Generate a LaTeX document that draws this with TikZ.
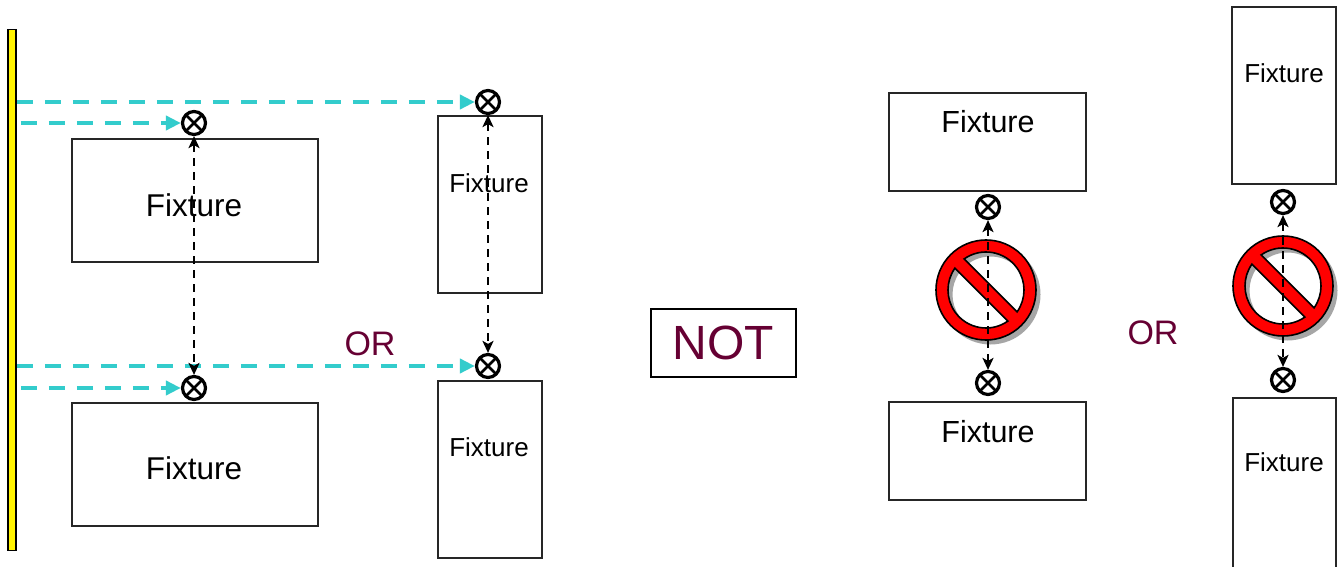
\documentclass[tikz,border=0pt]{standalone}
\usepackage{fontspec}
\setmainfont{Liberation Sans}
\usetikzlibrary{arrows.meta}
\definecolor{cyanline}{RGB}{51,204,204}
\definecolor{maroontxt}{RGB}{102,0,51}
\tikzset{
  signshape/.style={insert path={(0,0) circle[radius=50]
     (9.9:38) arc[start angle=9.9, end angle=170.1, radius=38] -- cycle
     (189.9:38) arc[start angle=189.9, end angle=350.1, radius=38] -- cycle}},
}
\newcommand{\nosignat}[1]{%
  \begin{scope}[shift={#1}]
    \fill[gray!70, shift={(4.5,4.5)}, rotate=-45, even odd rule, signshape];
    \fill[red, rotate=-45, even odd rule, signshape];
    \draw[black, line width=1.6pt, rotate=-45, signshape];
  \end{scope}}
\begin{document}
\begin{tikzpicture}[x=1pt,y=-1pt,
  fixture/.style={draw=black!85, line width=1.4pt, fill=white, inner sep=0pt},
  ftxtbig/.style={font=\fontsize{31.5}{36}\selectfont, inner sep=0pt},
  ftxtsmall/.style={font=\fontsize{26}{30}\selectfont, inner sep=0pt},
  ftxtmid/.style={font=\fontsize{30.5}{35}\selectfont, inner sep=0pt},
  ortxt/.style={text=maroontxt, font=\fontsize{34}{40}\selectfont, inner sep=0pt},
  xcirc/.style={circle, draw, line width=3.2pt, minimum size=23pt, inner sep=0pt, fill=white,
    path picture={\draw[line width=2.6pt] (path picture bounding box.center) +(-8.5,-8.5) -- +(8.5,8.5) +(-8.5,8.5) -- +(8.5,-8.5);}},
  cyanarrow/.style={draw=cyanline, line width=4.6pt, dash pattern=on 16pt off 12pt,
    -{Triangle[length=15pt,width=14pt]}},
  blackarrow/.style={draw=black, line width=2.4pt, dash pattern=on 8pt off 6pt,
    {Stealth[length=12pt,width=11pt,inset=3pt]}-{Stealth[length=12pt,width=11pt,inset=3pt]}},
]
\useasboundingbox (0,0) rectangle (1344,567);
\clip (0,0) rectangle (1344,567);
\fill[white] (0,0) rectangle (1344,567);

% wall
\node[draw=black, line width=1.8pt, fill=yellow, minimum width=8pt, minimum height=521pt, inner sep=0pt] (bar) at (12,290) {};

% left fixtures
\node[fixture, minimum width=246pt, minimum height=123pt] (b1) at (195,200.5) {};
\node[fixture, minimum width=246pt, minimum height=123pt] (b2) at (195,464.5) {};
\node[ftxtbig] (t1) at (194,205) {Fixture};
\node[ftxtbig] (t2) at (194,468) {Fixture};

% tall fixtures
\node[fixture, minimum width=104pt, minimum height=177pt] (b3) at (490,204.5) {};
\node[fixture, minimum width=104pt, minimum height=177pt] (b4) at (490,469.5) {};
\node[ftxtsmall] (t3) at (489,183) {Fixture};
\node[ftxtsmall] (t4) at (489,447) {Fixture};

% circles left
\node[xcirc] (c1) at (194,123) {};
\node[xcirc] (c2) at (194,388) {};
\node[xcirc] (c3) at (488,102) {};
\node[xcirc] (c4) at (488,366) {};

% cyan arrows
\draw[cyanarrow] (bar.east |- c3) -- (c3);
\draw[cyanarrow, shorten <=4pt] (bar.east |- c1) -- (c1);
\draw[cyanarrow] (bar.east |- c4) -- (c4);
\draw[cyanarrow, shorten <=4pt] (bar.east |- c2) -- (c2);

% black dashed arrows
\draw[blackarrow] (c1) -- (c2);
\draw[blackarrow] (c3) -- (c4);

\node[ortxt] (or1) at (370,344) {OR};

% NOT
\node[draw=black, line width=2.2pt, minimum width=145pt, minimum height=68pt, inner sep=0pt,
      text=maroontxt, font=\fontsize{48}{54}\selectfont] (not) at (723.5,343) {NOT};

% right fixtures
\node[fixture, minimum width=197pt, minimum height=98pt] (b5) at (987.5,142) {};
\node[fixture, minimum width=197pt, minimum height=98pt] (b6) at (987.5,451) {};
\node[ftxtmid] (t5) at (988,122) {Fixture};
\node[ftxtmid] (t6) at (988,432) {Fixture};

\node[fixture, minimum width=104pt, minimum height=177pt] (b7) at (1284,95.5) {};
\node[fixture, minimum width=103pt, minimum height=230pt] (b8) at (1284.5,513) {};
\node[ftxtsmall] (t7) at (1284,73) {Fixture};
\node[ftxtsmall] (t8) at (1284,462) {Fixture};

\nosignat{(986,290)}
\nosignat{(1283,286)}

\node[xcirc] (c5) at (988,207) {};
\node[xcirc] (c6) at (988,383) {};
\node[xcirc] (c7) at (1283,202) {};
\node[xcirc] (c8) at (1283,380) {};

\draw[blackarrow] (c5) -- (c6);
\draw[blackarrow] (c7) -- (c8);

\node[ortxt] (or2) at (1153,333) {OR};
\end{tikzpicture}
\end{document}
